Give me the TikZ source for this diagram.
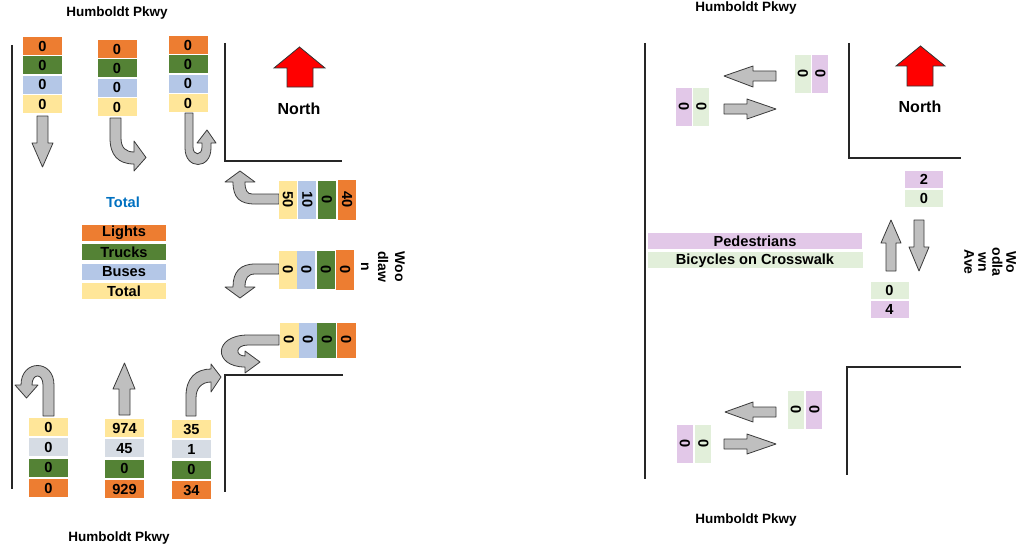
\documentclass[tikz,border=0pt]{standalone}
\usepackage{fontspec}
\setmainfont{Liberation Sans}
\usepackage{graphicx}
\usepackage{tikz}
\usetikzlibrary{positioning}
\usepackage{xcolor}
\definecolor{lightsor}{HTML}{ED7D31}
\definecolor{trucksgr}{HTML}{548235}
\definecolor{busesbl}{HTML}{B4C7E7}
\definecolor{totalye}{HTML}{FFE699}
\definecolor{heavygy}{HTML}{D6DCE4}
\definecolor{pedpur}{HTML}{E2C8E8}
\definecolor{bikegr}{HTML}{E2EFDA}
\definecolor{totalbl}{HTML}{0070C0}
\definecolor{arrgray}{HTML}{BFBFBF}
\definecolor{arrline}{HTML}{3A3A3A}
\newcommand\cntfont{\bfseries\fontsize{14.6}{16}\selectfont}
\newcommand\titlefont{\bfseries\fontsize{13.5}{15}\selectfont}
\tikzset{
cntbox/.style={rectangle,inner sep=0pt,minimum width=39pt,minimum height=18pt,font=\cntfont},
cntside/.style={rectangle,inner sep=0pt,minimum width=18pt,minimum height=38pt,font=\cntfont},
legbox/.style={rectangle,inner sep=0pt,minimum width=84pt,minimum height=16pt,font=\cntfont},
crossbox/.style={rectangle,inner sep=0pt,minimum width=214pt,minimum height=16pt,font=\cntfont},
pedbox/.style={rectangle,inner sep=0pt,minimum width=38pt,minimum height=17pt,font=\cntfont},
pedside/.style={rectangle,inner sep=0pt,minimum width=16pt,minimum height=38pt,font=\cntfont},
blockarr/.style={draw=arrline,fill=arrgray,line width=0.8pt,line join=round},
northarr/.style={draw=black!80,fill=red,line width=0.8pt,line join=miter},
roadline/.style={draw=black!85,line width=1.3pt},
streetlbl/.style={font=\titlefont,align=center}
}

\begin{document}
\begin{tikzpicture}[x=1pt,y=-1pt]
\useasboundingbox (0,0) rectangle (1028,551);

% left side: vehicle counts
\node[streetlbl] (hpn) at (117,13) {Humboldt Pkwy};
\node[streetlbl] (hps) at (119,538) {Humboldt Pkwy};
\node[streetlbl,rotate=-90,font=\fontsize{14}{17}\bfseries] (wdl) at (383,267) {Woo\\dlaw\\n};
\draw[roadline] (12,45) -- (12,489);
\draw[roadline] (225,43) |- (342,161);
\draw[roadline] (343,375) -| (225,492);

\draw[northarr] (287,87) -- (287,68) -- (274,68) -- (299.5,47) -- (325,68) -- (313,68) -- (313,87) -- cycle;
\node[font=\bfseries\fontsize{16}{18}\selectfont] (nl) at (299,109) {North};

% southbound
\draw[blockarr] (37,116) -- (48,116) -- (48,143) -- (53,143) -- (42.5,167) -- (32,143) -- (37,143) -- cycle;
\draw[blockarr] (110,118) -- (121,118) -- (121,138) .. controls (121,148) and (126,152) .. (134,152) -- (134,141) -- (146,157.5) -- (134,171) -- (134,164) .. controls (118,164) and (110,155) .. (110,138) -- cycle;
\draw[blockarr] (185,113) -- (193,113) -- (193,147) .. controls (193,156) and (202,156) .. (202,147) -- (202,143) -- (197,143) -- (207,130) -- (216,143) -- (211,143) -- (211,148) .. controls (211,170) and (185,170) .. (185,148) -- cycle;

\node[cntbox,fill=lightsor] (s1o) at (42.5,46) {0};
\node[cntbox,fill=trucksgr,below=1pt of s1o] (s1g) {0};
\node[cntbox,fill=busesbl,below=1pt of s1g] (s1b) {0};
\node[cntbox,fill=totalye,below=1pt of s1b] (s1t) {0};
\node[cntbox,fill=lightsor] (s2o) at (117,49) {0};
\node[cntbox,fill=trucksgr,below=1pt of s2o] (s2g) {0};
\node[cntbox,fill=busesbl,below=1pt of s2g] (s2b) {0};
\node[cntbox,fill=totalye,below=1pt of s2b] (s2t) {0};
\node[cntbox,fill=lightsor] (s3o) at (188,45) {0};
\node[cntbox,fill=trucksgr,below=1pt of s3o] (s3g) {0};
\node[cntbox,fill=busesbl,below=1pt of s3g] (s3b) {0};
\node[cntbox,fill=totalye,below=1pt of s3b] (s3t) {0};

% westbound
\draw[blockarr] (279,194) -- (252,194) .. controls (247,194) and (245,190) .. (245,182) -- (255,182) -- (240,171) -- (225,182) -- (233,182) .. controls (233,198) and (240,204) .. (255,204) -- (279,204) -- cycle;
\draw[blockarr] (279,264) -- (255,264) .. controls (240,264) and (233,272) .. (233,287) -- (225,287) -- (240,298) -- (255,287) -- (245,287) .. controls (245,278) and (248,274) .. (255,274) -- (279,274) -- cycle;
\draw[blockarr] (279,335) -- (248,335) .. controls (213,335) and (213,367) .. (245,367) -- (245,373) -- (260,362) -- (245,351) -- (245,356) .. controls (235,356) and (235,345) .. (248,345) -- (279,345) -- cycle;

\node[cntside,fill=totalye] (w1t) at (288,200) {\rotatebox{-90}{50}};
\node[cntside,fill=busesbl,right=1pt of w1t] (w1b) {\rotatebox{-90}{10}};
\node[cntside,fill=trucksgr,right=1pt of w1b] (w1g) {\rotatebox{-90}{0}};
\node[cntside,fill=lightsor,minimum height=40pt,right=2pt of w1g] (w1o) {\rotatebox{-90}{40}};
\node[cntside,fill=totalye] (w2t) at (288,270) {\rotatebox{-90}{0}};
\node[cntside,fill=busesbl,right=0pt of w2t] (w2b) {\rotatebox{-90}{0}};
\node[cntside,fill=trucksgr,right=1pt of w2b] (w2g) {\rotatebox{-90}{0}};
\node[cntside,fill=lightsor,minimum height=40pt,right=1pt of w2g] (w2o) {\rotatebox{-90}{0}};
\node[cntside,fill=totalye,minimum width=19pt,minimum height=35pt] (w3t) at (289,340) {\rotatebox{-90}{0}};
\node[cntside,fill=busesbl,minimum height=35pt,right=0pt of w3t] (w3b) {\rotatebox{-90}{0}};
\node[cntside,fill=trucksgr,minimum width=19pt,minimum height=35pt,right=0pt of w3b] (w3g) {\rotatebox{-90}{0}};
\node[cntside,fill=lightsor,minimum width=19pt,minimum height=35pt,right=0pt of w3g] (w3o) {\rotatebox{-90}{0}};

% northbound
\draw[blockarr] (43,416) -- (54,416) -- (54,385) .. controls (54,359) and (21,359) .. (21,385) -- (15,385) -- (26.5,398) -- (38,385) -- (32,385) .. controls (32,373) and (43,373) .. (43,385) -- cycle;
\draw[blockarr] (119,415) -- (130,415) -- (130,389) -- (135,389) -- (124.5,363) -- (113,389) -- (119,389) -- cycle;
\draw[blockarr] (186,416) -- (186,396) .. controls (186,378) and (196,369) .. (211,369) -- (211,364) -- (221,377) -- (211,392) -- (211,382) .. controls (202,382) and (196,388) .. (196,398) -- (196,416) -- cycle;

\node[cntbox,fill=totalye] (n1t) at (48.5,427) {0};
\node[cntbox,fill=heavygy,below=2pt of n1t] (n1h) {0};
\node[cntbox,fill=trucksgr,below=2pt of n1h] (n1g) {0};
\node[cntbox,fill=lightsor,below=2pt of n1g] (n1o) {0};
\node[cntbox,fill=totalye] (n2t) at (124.5,428) {974};
\node[cntbox,fill=heavygy,below=2pt of n2t] (n2h) {45};
\node[cntbox,fill=trucksgr,below=2pt of n2h] (n2g) {0};
\node[cntbox,fill=lightsor,below=2pt of n2g] (n2o) {929};
\node[cntbox,fill=totalye] (n3t) at (191.5,429) {35};
\node[cntbox,fill=heavygy,below=2pt of n3t] (n3h) {1};
\node[cntbox,fill=trucksgr,below=2pt of n3h] (n3g) {0};
\node[cntbox,fill=lightsor,below=2pt of n3g] (n3o) {34};

% legend
\node[font=\cntfont,text=totalbl] (legt) at (123,202) {Total};
\node[legbox,fill=lightsor] (leg1) at (124,233) {Lights};
\node[legbox,fill=trucksgr,below=3pt of leg1] (leg2) {Trucks};
\node[legbox,fill=busesbl,below=3pt of leg2] (leg3) {Buses};
\node[legbox,fill=totalye,below=3pt of leg3] (leg4) {Total};

% right side: pedestrians and bicycles
\node[streetlbl] (rhpn) at (746,8) {Humboldt Pkwy};
\node[streetlbl] (rhps) at (746,520) {Humboldt Pkwy};
\node[streetlbl,rotate=-90,font=\fontsize{14}{14}\bfseries] (rwdl) at (990,262) {Wo\\odla\\wn\\Ave};
\draw[roadline] (645,43) -- (645,479);
\draw[roadline] (849,43) |- (961,158);
\draw[roadline] (961,367) -| (847,475);

\draw[northarr] (907,86) -- (907,66) -- (896,66) -- (920.5,46) -- (945,66) -- (933,66) -- (933,86) -- cycle;
\node[font=\bfseries\fontsize{16}{18}\selectfont] (nr) at (920,107) {North};

\draw[blockarr] (776,71) -- (753,71) -- (753,66) -- (724,76) -- (753,87) -- (753,81) -- (776,81) -- cycle;
\draw[blockarr] (724,104) -- (747,104) -- (747,99) -- (776,109) -- (747,119) -- (747,114) -- (724,114) -- cycle;
\draw[blockarr] (776,407) -- (753,407) -- (753,402) -- (725,412) -- (753,422) -- (753,417) -- (776,417) -- cycle;
\draw[blockarr] (724,439) -- (747,439) -- (747,434) -- (776,444) -- (747,454) -- (747,449) -- (724,449) -- cycle;
\draw[blockarr] (886,271) -- (886,243) -- (881,243) -- (891,220) -- (901,243) -- (896,243) -- (896,271) -- cycle;
\draw[blockarr] (914,220) -- (924,220) -- (924,247) -- (929,247) -- (919,271) -- (909,247) -- (914,247) -- cycle;

\node[pedside,fill=bikegr] (c1b) at (803,74) {\rotatebox{-90}{0}};
\node[pedside,fill=pedpur,right=1pt of c1b] (c1p) {\rotatebox{-90}{0}};
\node[pedside,fill=pedpur] (c2p) at (684,107) {\rotatebox{-90}{0}};
\node[pedside,fill=bikegr,right=1pt of c2p] (c2b) {\rotatebox{-90}{0}};
\node[pedside,fill=bikegr] (c3b) at (796,410) {\rotatebox{-90}{0}};
\node[pedside,fill=pedpur,right=2pt of c3b] (c3p) {\rotatebox{-90}{0}};
\node[pedside,fill=pedpur] (c4p) at (685,443.5) {\rotatebox{-90}{0}};
\node[pedside,fill=bikegr,right=2pt of c4p] (c4b) {\rotatebox{-90}{0}};

\node[pedbox,fill=pedpur] (c5p) at (924,179.5) {2};
\node[pedbox,fill=bikegr,below=2pt of c5p] (c5b) {0};
\node[pedbox,fill=bikegr] (c6b) at (889.5,290) {0};
\node[pedbox,fill=pedpur,below=2pt of c6b] (c6p) {4};

\node[crossbox,fill=pedpur] (legp) at (755,241) {Pedestrians};
\node[crossbox,fill=bikegr,minimum width=215pt,below=3pt of legp] (legb) {Bicycles on Crosswalk};
\end{tikzpicture}
\end{document}
